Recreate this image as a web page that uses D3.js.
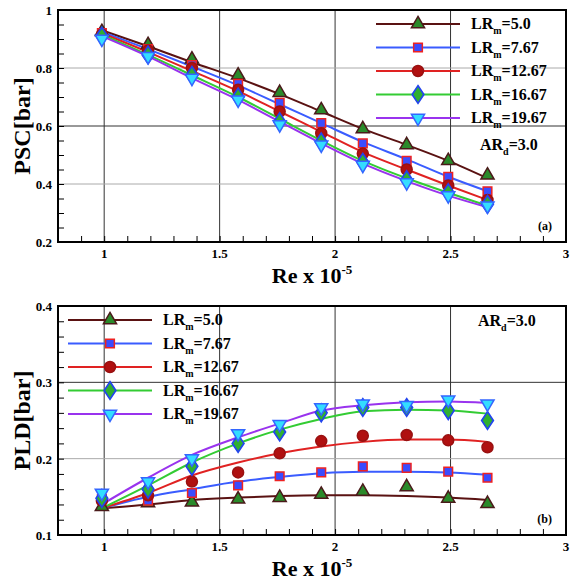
<!DOCTYPE html>
<html><head><meta charset="utf-8">
<script src="https://cdn.jsdelivr.net/npm/d3@7"></script>
<style>body{margin:0;background:#fff}text{font-family:"Liberation Serif","Times New Roman",serif;font-weight:bold}</style>
</head><body><div id="chart"></div>
<script>
const reValues = [0.99, 1.19, 1.38, 1.58, 1.76, 1.94, 2.12, 2.31, 2.49, 2.66];
const seriesNames = ['5.0', '7.67', '12.67', '16.67', '19.67'];
const pscPoints = [
  [0.925, 0.88, 0.83, 0.775, 0.715, 0.655, 0.59, 0.535, 0.48, 0.43],
  [0.92, 0.865, 0.81, 0.745, 0.68, 0.61, 0.54, 0.48, 0.425, 0.375],
  [0.915, 0.86, 0.80, 0.725, 0.65, 0.575, 0.505, 0.45, 0.395, 0.345],
  [0.91, 0.845, 0.775, 0.70, 0.615, 0.545, 0.475, 0.415, 0.37, 0.33],
  [0.90, 0.84, 0.765, 0.69, 0.605, 0.535, 0.465, 0.405, 0.36, 0.325]
];
const pscFit = [
  [0.93, 0.875, 0.82, 0.765, 0.71, 0.65, 0.59, 0.535, 0.48, 0.42],
  [0.925, 0.865, 0.805, 0.74, 0.675, 0.61, 0.545, 0.485, 0.425, 0.375],
  [0.92, 0.855, 0.79, 0.72, 0.65, 0.58, 0.51, 0.45, 0.395, 0.345],
  [0.915, 0.845, 0.775, 0.70, 0.625, 0.55, 0.48, 0.42, 0.37, 0.325],
  [0.91, 0.84, 0.765, 0.69, 0.615, 0.54, 0.47, 0.41, 0.36, 0.32]
];
const pldPoints = [
  [0.137, 0.142, 0.143, 0.147, 0.149, 0.153, 0.157, 0.163, 0.148, 0.141],
  [0.147, 0.145, 0.155, 0.165, 0.177, 0.182, 0.19, 0.188, 0.183, 0.175],
  [0.145, 0.152, 0.17, 0.182, 0.207, 0.223, 0.23, 0.231, 0.224, 0.215],
  [0.148, 0.16, 0.19, 0.22, 0.235, 0.26, 0.267, 0.267, 0.263, 0.25],
  [0.155, 0.17, 0.2, 0.233, 0.245, 0.267, 0.272, 0.27, 0.277, 0.272]
];
const pldFit = [
  [0.135, 0.14, 0.146, 0.149, 0.151, 0.152, 0.152, 0.151, 0.149, 0.146],
  [0.135, 0.15, 0.16, 0.17, 0.176, 0.181, 0.183, 0.183, 0.182, 0.179],
  [0.135, 0.155, 0.178, 0.195, 0.207, 0.216, 0.222, 0.225, 0.225, 0.222],
  [0.135, 0.165, 0.195, 0.22, 0.238, 0.252, 0.262, 0.264, 0.263, 0.259],
  [0.14, 0.175, 0.205, 0.228, 0.246, 0.263, 0.27, 0.274, 0.275, 0.273]
];
const lineColors = ['#5a1212', '#3a5cff', '#e02222', '#33cc33', '#9933ee'];
const markerFill = ['#2a8a2a', '#3a4cff', '#b01010', '#30b030', '#33ddff'];
const markerStroke = ['#4a1a1a', '#ee2222', '#991111', '#2244ee', '#3366ff'];
const markerTypes = [d3.symbolTriangle, d3.symbolSquare, d3.symbolCircle, d3.symbolDiamond, 'down'];

const svg = d3.select('#chart').append('svg').attr('width', 575).attr('height', 586);

function drawPanel(cfg) {
  const x = d3.scaleLinear().domain([0.8, 3]).range([58, 566]);
  const y = d3.scaleLinear().domain(cfg.yDomain).range([cfg.bottom, cfg.top]);
  const g = svg.append('g');
  // grid
  g.selectAll('.vg').data([1, 1.5, 2, 2.5]).enter().append('line')
    .attr('x1', d => x(d)).attr('x2', d => x(d)).attr('y1', cfg.top).attr('y2', cfg.bottom)
    .attr('stroke', '#333').attr('stroke-width', 1);
  g.selectAll('.hg').data(cfg.yGrid).enter().append('line')
    .attr('x1', 58).attr('x2', 566).attr('y1', d => y(d)).attr('y2', d => y(d))
    .attr('stroke', (d, i) => i % 2 ? '#333' : '#aaa').attr('stroke-width', 1);
  // axes
  const ax = g.append('g').attr('transform', `translate(0,${cfg.bottom})`)
    .call(d3.axisBottom(x).tickValues(d3.range(0.8, 3.001, 0.1)).tickSize(-6).tickFormat(''));
  const ax2 = g.append('g').attr('transform', `translate(58,0)`)
    .call(d3.axisLeft(y).tickValues(d3.range(cfg.yDomain[0], cfg.yDomain[1] + 1e-6, cfg.yMinor)).tickSize(-6).tickFormat(''));
  [ax, ax2].forEach(a => { a.select('.domain').remove(); a.selectAll('line').attr('stroke', '#000'); });
  g.selectAll('.xl').data([1, 1.5, 2, 2.5, 3]).enter().append('text')
    .attr('x', d => x(d)).attr('y', cfg.bottom + 16).attr('text-anchor', 'middle')
    .attr('font-size', 13).text(d => d3.format('~g')(d));
  g.selectAll('.yl').data(cfg.yTicks).enter().append('text')
    .attr('x', 52).attr('y', d => y(d) + 5).attr('text-anchor', 'end')
    .attr('font-size', 13).text(d => d3.format('~g')(d));
  g.append('rect').attr('x', 58).attr('y', cfg.top).attr('width', 508).attr('height', cfg.bottom - cfg.top)
    .attr('fill', 'none').attr('stroke', '#000').attr('stroke-width', 2);

  const line = d3.line().x((d, i) => x(reValues[i])).y(d => y(d)).curve(d3.curveMonotoneX);
  cfg.fit.forEach((s, k) => {
    g.append('path').attr('d', line(s)).attr('fill', 'none')
      .attr('stroke', lineColors[k]).attr('stroke-width', 2);
  });
  cfg.points.forEach((s, k) => {
    s.forEach((v, i) => drawMarker(g, k, x(reValues[i]), y(v)));
  });
  // legend
  seriesNames.forEach((n, k) => {
    const ly = cfg.legY + k * 23.5;
    g.append('line').attr('x1', cfg.legX).attr('x2', cfg.legX + 84).attr('y1', ly).attr('y2', ly)
      .attr('stroke', lineColors[k]).attr('stroke-width', 2);
    drawMarker(g, k, cfg.legX + 42, ly);
    const t = g.append('text').attr('x', cfg.legX + 95).attr('y', ly + 5).attr('font-size', 16);
    t.append('tspan').text('LR');
    t.append('tspan').attr('font-size', 10).attr('dy', 5).text('m');
    t.append('tspan').attr('dy', -5).text('=' + n);
  });
  const ar = g.append('text').attr('x', cfg.arX).attr('y', cfg.arY).attr('font-size', 16);
  ar.append('tspan').text('AR');
  ar.append('tspan').attr('font-size', 10).attr('dy', 5).text('d');
  ar.append('tspan').attr('dy', -5).text('=3.0');
  g.append('text').attr('x', 552).attr('y', cfg.bottom - 12).attr('text-anchor', 'end')
    .attr('font-size', 12).text(cfg.tag);
  // labels
  g.append('text').attr('transform', `translate(30,${(cfg.top + cfg.bottom) / 2}) rotate(-90)`)
    .attr('text-anchor', 'middle').attr('font-size', 24).text(cfg.yLabel);
  const xl = g.append('text').attr('x', 312).attr('y', cfg.bottom + 41).attr('text-anchor', 'middle').attr('font-size', 22);
  xl.append('tspan').text('Re x 10');
  xl.append('tspan').attr('font-size', 13).attr('dy', -9).text('-5');
}

function drawMarker(g, k, cx, cy) {
  const t = markerTypes[k];
  const sym = d3.symbol().type(t === 'down' ? d3.symbolTriangle : t).size(k === 2 ? 95 : k === 3 ? 90 : 75);
  g.append('path').attr('d', sym())
    .attr('transform', `translate(${cx},${cy})` + (t === 'down' ? ' rotate(180)' : '') + (k === 3 ? ' scale(1.15,1)' : ''))
    .attr('fill', markerFill[k]).attr('stroke', markerStroke[k]).attr('stroke-width', 1.5);
}

drawPanel({ top: 10, bottom: 242, yDomain: [0.2, 1], yTicks: [0.2, 0.4, 0.6, 0.8, 1], yGrid: [0.4, 0.6, 0.8], yMinor: 0.05,
  points: pscPoints, fit: pscFit, legX: 376, legY: 24, arX: 480, arY: 150, tag: '(a)', yLabel: 'PSC[bar]' });
drawPanel({ top: 306, bottom: 535, yDomain: [0.1, 0.4], yTicks: [0.1, 0.2, 0.3, 0.4], yGrid: [0.2, 0.3], yMinor: 0.02,
  points: pldPoints, fit: pldFit, legX: 68, legY: 320, arX: 478, arY: 326, tag: '(b)', yLabel: 'PLD[bar]' });
</script></body></html>
